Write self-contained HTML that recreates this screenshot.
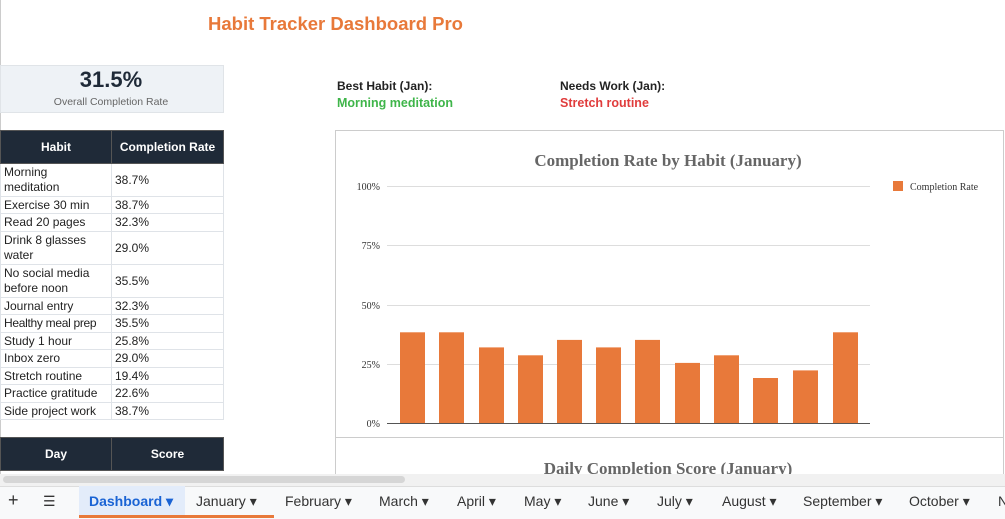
<!DOCTYPE html><html><head><style>
body{margin:0;width:1005px;height:518px;overflow:hidden;background:#fff;font-family:"Liberation Sans",sans-serif;position:relative}
.a{position:absolute}
td{border:1px solid #dfe3e8;font-size:12px;color:#222;padding:0 3px;line-height:15px;white-space:normal}
table{border-collapse:collapse;position:absolute;left:0;width:223px;table-layout:fixed}
th{background:#1f2a38;color:#fff;font-size:12px;border:1px solid #555;height:30px}
.tab{position:absolute;top:493px;font-size:14px;color:#333}
</style></head><body>
<div class="a" style="left:0;top:0;width:1px;height:480px;background:#ccc"></div>
<div class="a" style="left:208px;top:13px;font-size:18.5px;font-weight:bold;color:#e8793a">Habit Tracker Dashboard Pro</div>
<div class="a" style="left:0;top:65px;width:222px;height:46px;background:#eef2f6;border:1px solid #e0e4e8"></div>
<div class="a" style="left:0;top:67px;width:222px;text-align:center;font-size:22px;font-weight:bold;color:#1f2a38">31.5%</div>
<div class="a" style="left:0;top:96px;width:222px;text-align:center;font-size:10.5px;color:#666">Overall Completion Rate</div>
<div class="a" style="left:337px;top:79px;font-size:12px;font-weight:bold;color:#222">Best Habit (Jan):</div>
<div class="a" style="left:337px;top:96px;font-size:12.5px;font-weight:bold;color:#3fb54a">Morning meditation</div>
<div class="a" style="left:560px;top:79px;font-size:12px;font-weight:bold;color:#222">Needs Work (Jan):</div>
<div class="a" style="left:560px;top:96px;font-size:12.5px;font-weight:bold;color:#e03c3c">Stretch routine</div>
<table style="top:130px"><colgroup><col style="width:111px"><col style="width:112px"></colgroup><tr><th>Habit</th><th>Completion Rate</th></tr>
<tr style="height:33px"><td>Morning<br>meditation</td><td>38.7%</td></tr>
<tr style="height:17px"><td>Exercise 30 min</td><td>38.7%</td></tr>
<tr style="height:18px"><td>Read 20 pages</td><td>32.3%</td></tr>
<tr style="height:33px"><td>Drink 8 glasses water</td><td>29.0%</td></tr>
<tr style="height:33px"><td>No social media before noon</td><td>35.5%</td></tr>
<tr style="height:17px"><td>Journal entry</td><td>32.3%</td></tr>
<tr style="height:18px"><td style="white-space:nowrap;letter-spacing:-0.3px">Healthy meal prep</td><td>35.5%</td></tr>
<tr style="height:17px"><td>Study 1 hour</td><td>25.8%</td></tr>
<tr style="height:18px"><td>Inbox zero</td><td>29.0%</td></tr>
<tr style="height:17px"><td>Stretch routine</td><td>19.4%</td></tr>
<tr style="height:18px"><td>Practice gratitude</td><td>22.6%</td></tr>
<tr style="height:17px"><td style="white-space:nowrap">Side project work</td><td>38.7%</td></tr></table>
<table style="top:437px"><colgroup><col style="width:111px"><col style="width:112px"></colgroup><tr><th>Day</th><th>Score</th></tr></table>
<svg class="a" style="left:0;top:0" width="1005" height="518" font-family="Liberation Serif">
<rect x="335.5" y="130.5" width="668" height="360" fill="#fff" stroke="#ccc"/>
<line x1="336" y1="437.5" x2="1004" y2="437.5" stroke="#ccc"/>
<text x="668" y="166" text-anchor="middle" font-size="17" font-weight="bold" fill="#666">Completion Rate by Habit (January)</text>
<text x="668" y="474" text-anchor="middle" font-size="17" font-weight="bold" fill="#666">Daily Completion Score (January)</text>
<g font-size="10" fill="#333" text-anchor="end">
<text x="380" y="190">100%</text><text x="380" y="249">75%</text><text x="380" y="309">50%</text><text x="380" y="368">25%</text><text x="380" y="427">0%</text></g>
<g stroke="#ddd"><line x1="387" y1="186.5" x2="870" y2="186.5"/><line x1="387" y1="245.5" x2="870" y2="245.5"/><line x1="387" y1="305.5" x2="870" y2="305.5"/><line x1="387" y1="364.5" x2="870" y2="364.5"/></g>
<g fill="#e8793a">
<rect x="400" y="332.3" width="25" height="91.7"/><rect x="439" y="332.3" width="25" height="91.7"/><rect x="479" y="347.4" width="25" height="76.6"/><rect x="518" y="355.3" width="25" height="68.7"/><rect x="557" y="339.9" width="25" height="84.1"/><rect x="596" y="347.4" width="25" height="76.6"/><rect x="635" y="339.9" width="25" height="84.1"/><rect x="675" y="362.9" width="25" height="61.1"/><rect x="714" y="355.3" width="25" height="68.7"/><rect x="753" y="378" width="25" height="46"/><rect x="793" y="370.4" width="25" height="53.6"/><rect x="833" y="332.3" width="25" height="91.7"/>
<rect x="893" y="181" width="10" height="10"/></g>
<line x1="387" y1="423.5" x2="870" y2="423.5" stroke="#555"/>
<text x="910" y="190" font-size="10" fill="#333">Completion Rate</text>
</svg>
<div class="a" style="left:0;top:474px;width:1005px;height:12px;background:#f1f1f1"></div>
<div class="a" style="left:3px;top:476px;width:402px;height:7px;background:#d6d6d6;border-radius:4px"></div>
<div class="a" style="left:0;top:486px;width:1005px;height:32px;background:#f8f9fa;border-top:1px solid #ddd"></div>
<div class="a" style="left:79px;top:486px;width:106px;height:32px;background:#e3ecfa"></div>
<div class="a" style="left:79px;top:515px;width:195px;height:3px;background:#e8793a"></div>
<div class="tab" style="left:8px;font-size:18px;top:490px">+</div>
<div class="tab" style="left:43px">☰</div>
<div class="tab" style="left:89px;color:#1a63d4;font-weight:bold">Dashboard ▾</div>
<div class="tab" style="left:196px">January ▾</div>
<div class="tab" style="left:285px">February ▾</div>
<div class="tab" style="left:379px">March ▾</div>
<div class="tab" style="left:457px">April ▾</div>
<div class="tab" style="left:524px">May ▾</div>
<div class="tab" style="left:588px">June ▾</div>
<div class="tab" style="left:657px">July ▾</div>
<div class="tab" style="left:722px">August ▾</div>
<div class="tab" style="left:803px">September ▾</div>
<div class="tab" style="left:909px">October ▾</div>
<div class="tab" style="left:998px">N</div>
</body></html>
